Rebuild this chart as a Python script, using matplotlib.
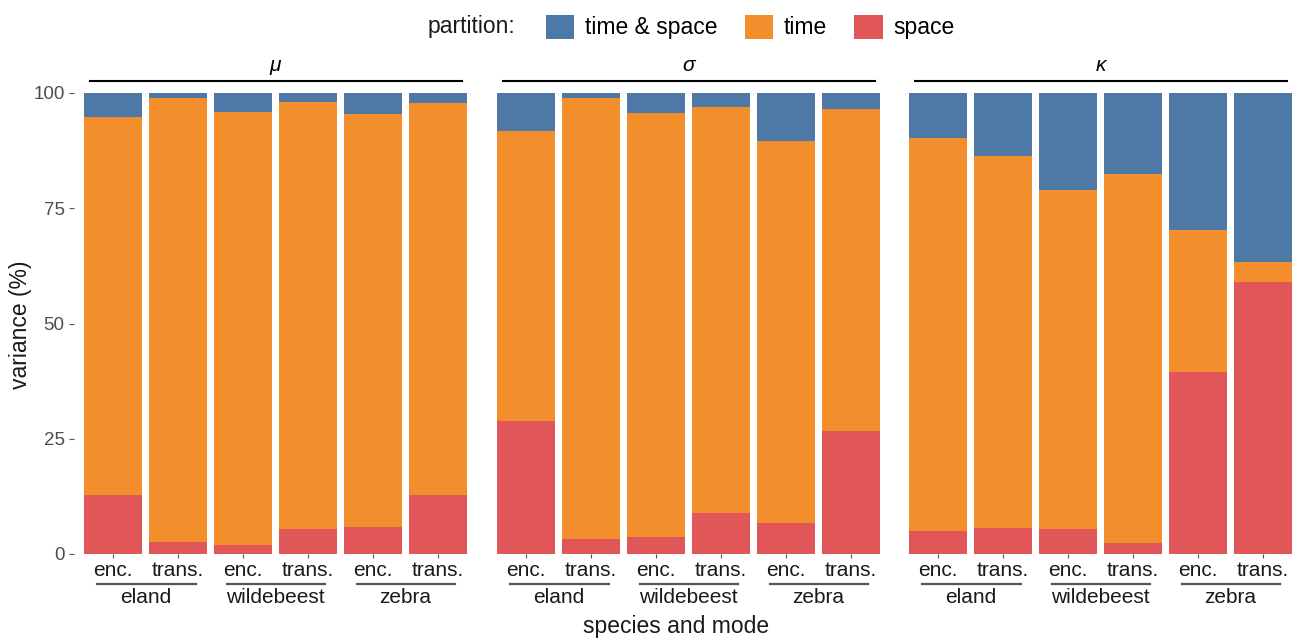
import matplotlib
matplotlib.use("Agg")
import matplotlib.pyplot as plt
from matplotlib.patches import Patch
from matplotlib.lines import Line2D
import numpy as np

plt.rcParams['font.family'] = ['Liberation Sans', 'DejaVu Sans']

params = ["μ", "σ", "κ"]
species = ["eland", "wildebeest", "zebra"]
modes = ["enc.", "trans."]
partitions = ["time & space", "time", "space"]
colors = {"time & space": "#4E79A7", "time": "#F28E2B", "space": "#E15759"}

# percent values per bar (order: eland enc, eland trans, wildebeest enc, wildebeest trans, zebra enc, zebra trans)
space = {
    "μ": [12.8, 2.6, 2.0, 5.4, 5.9, 12.8],
    "σ": [28.9, 3.3, 3.7, 8.9, 6.7, 26.6],
    "κ": [5.0, 5.7, 5.4, 2.4, 39.5, 59.0],
}
time = {
    "μ": [82.1, 96.4, 93.9, 92.7, 89.6, 85.0],
    "σ": [62.9, 95.6, 91.9, 88.1, 82.9, 69.9],
    "κ": [85.2, 80.6, 73.5, 80.0, 30.8, 4.3],
}
time_space = {
    "μ": [5.1, 1.0, 4.1, 1.9, 4.5, 2.2],
    "σ": [8.2, 1.1, 4.4, 3.0, 10.4, 3.5],
    "κ": [9.8, 13.7, 21.1, 17.6, 29.7, 36.7],
}
yticks = [0, 25, 50, 75, 100]

fig = plt.figure(figsize=(12.96, 6.38), dpi=100)
W, H = 1296, 638
panel_left = [74.3, 487.3, 899.3]
panel_w = 402.4
top_px, bot_px = 93, 554

x = np.arange(6)
for i, p in enumerate(params):
    ax = fig.add_axes([panel_left[i] / W, 1 - bot_px / H, panel_w / W, (bot_px - top_px) / H])
    s = np.array(space[p]); t = np.array(time[p]); ts = np.array(time_space[p])
    ax.bar(x, s, width=0.9, color=colors["space"])
    ax.bar(x, t, width=0.9, bottom=s, color=colors["time"])
    ax.bar(x, ts, width=0.9, bottom=s + t, color=colors["time & space"])
    ax.set_xlim(-0.6, 5.6)
    ax.set_ylim(0, 100)
    for sp in ax.spines.values():
        sp.set_visible(False)
    ax.set_xticks(x)
    ax.set_xticklabels([modes[j % 2] for j in range(6)], fontsize=15, color="#1a1a1a")
    ax.tick_params(axis='x', length=3.2, color="#555555", pad=2)
    if i == 0:
        ax.set_yticks(yticks)
        ax.set_yticklabels([str(v) for v in yticks], fontsize=13.5, color="#4d4d4d")
        ax.tick_params(axis='y', length=3.5, color="#555555", pad=3.5)
    else:
        ax.set_yticks([])
    # strip
    ax.add_line(Line2D([0.039, 0.963], [1.026, 1.026], transform=ax.transAxes,
                       color="black", lw=1.5, clip_on=False))
    ax.text(0.5, 1.040, p, transform=ax.transAxes, ha="center", va="bottom",
            fontsize=15, style="italic")
    # species group labels
    tr = ax.get_xaxis_transform()
    for k, spn in enumerate(species):
        x0, x1 = 2 * k - 0.25, 2 * k + 1.27
        ax.add_line(Line2D([x0, x1], [-0.064, -0.064], transform=tr,
                           color="#555555", lw=1.6, clip_on=False))
        ax.text(2 * k + 0.5, -0.074, spn, transform=tr,
                ha="center", va="top", fontsize=15, color="#1a1a1a")

fig.text(21 / W, 1 - 325 / H, "variance (%)", rotation=90, ha="center", va="center",
         fontsize=16.5, color="#1a1a1a")
fig.text(676 / W, 1 - 627 / H, "species and mode", ha="center", va="center",
         fontsize=16.5, color="#1a1a1a")

handles = [Patch(facecolor=colors[k], edgecolor="none") for k in partitions]
leg = fig.legend(handles, partitions, loc="center", bbox_to_anchor=(750 / W, 1 - 27 / H),
                 ncol=3, frameon=False, fontsize=16.5, handlelength=1.25, handleheight=1.25,
                 columnspacing=1.2, handletextpad=0.45, borderpad=0, borderaxespad=0)
fig.text(515 / W, 1 - 33.5 / H, "partition:", ha="right", va="baseline",
         fontsize=16.5, color="#1a1a1a")

fig.savefig("out.png", dpi=100, facecolor="white")
